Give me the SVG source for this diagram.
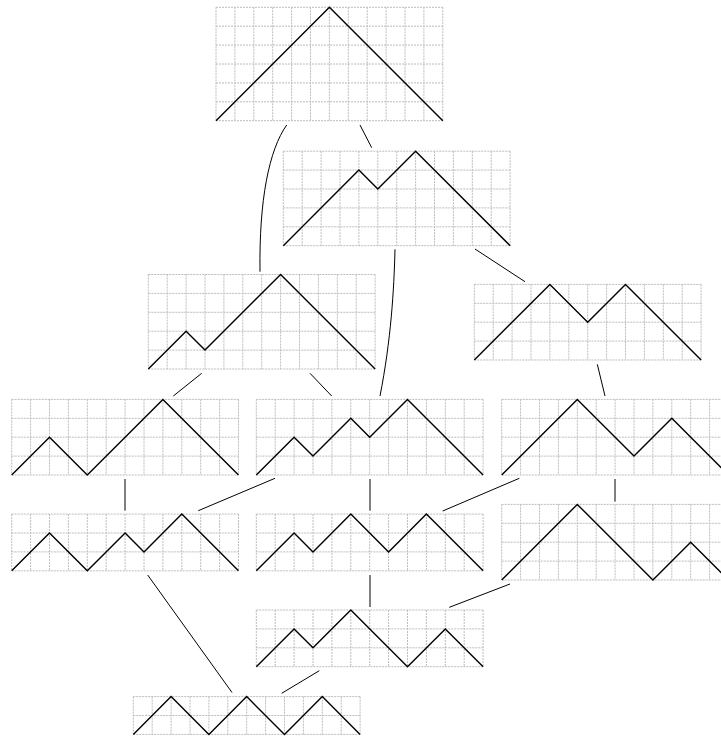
<svg xmlns="http://www.w3.org/2000/svg" xmlns:xlink="http://www.w3.org/1999/xlink" width="721" height="737" viewBox="0 0 721 737">
<style>
.grid{fill:none;stroke:#bcbcbc;stroke-width:1;stroke-dasharray:2,1}
.dyck{fill:none;stroke:#000;stroke-width:1.4;stroke-linejoin:miter}
.edge{fill:none;stroke:#000;stroke-width:1}
</style>
<defs>
<path id="g2" class="grid" d="M0,0H226.8M0,18.9H226.8M0,37.8H226.8M0,0V37.8M18.9,0V37.8M37.8,0V37.8M56.7,0V37.8M75.6,0V37.8M94.5,0V37.8M113.4,0V37.8M132.3,0V37.8M151.2,0V37.8M170.1,0V37.8M189,0V37.8M207.9,0V37.8M226.8,0V37.8"/>
<path id="g3" class="grid" d="M0,0H226.8M0,18.9H226.8M0,37.8H226.8M0,56.7H226.8M0,0V56.7M18.9,0V56.7M37.8,0V56.7M56.7,0V56.7M75.6,0V56.7M94.5,0V56.7M113.4,0V56.7M132.3,0V56.7M151.2,0V56.7M170.1,0V56.7M189,0V56.7M207.9,0V56.7M226.8,0V56.7"/>
<path id="g4" class="grid" d="M0,0H226.8M0,18.9H226.8M0,37.8H226.8M0,56.7H226.8M0,75.6H226.8M0,0V75.6M18.9,0V75.6M37.8,0V75.6M56.7,0V75.6M75.6,0V75.6M94.5,0V75.6M113.4,0V75.6M132.3,0V75.6M151.2,0V75.6M170.1,0V75.6M189,0V75.6M207.9,0V75.6M226.8,0V75.6"/>
<path id="g5" class="grid" d="M0,0H226.8M0,18.9H226.8M0,37.8H226.8M0,56.7H226.8M0,75.6H226.8M0,94.5H226.8M0,0V94.5M18.9,0V94.5M37.8,0V94.5M56.7,0V94.5M75.6,0V94.5M94.5,0V94.5M113.4,0V94.5M132.3,0V94.5M151.2,0V94.5M170.1,0V94.5M189,0V94.5M207.9,0V94.5M226.8,0V94.5"/>
<path id="g6" class="grid" d="M0,0H226.8M0,18.9H226.8M0,37.8H226.8M0,56.7H226.8M0,75.6H226.8M0,94.5H226.8M0,113.4H226.8M0,0V113.4M18.9,0V113.4M37.8,0V113.4M56.7,0V113.4M75.6,0V113.4M94.5,0V113.4M113.4,0V113.4M132.3,0V113.4M151.2,0V113.4M170.1,0V113.4M189,0V113.4M207.9,0V113.4M226.8,0V113.4"/>
</defs>
<rect width="721" height="737" fill="#fff"/>
<g id="edges">
<path class="edge" d="M360,125L371.7,147.7"/>
<path class="edge" d="M286.7,125C269,150 259,200 260,271.7"/>
<path class="edge" d="M475,249L525,281.7"/>
<path class="edge" d="M395,249.3C394,290 391,340 380,396"/>
<path class="edge" d="M201.7,373.3L173.3,396"/>
<path class="edge" d="M310,373.3L331.7,396"/>
<path class="edge" d="M597.3,364.3L605,396"/>
<path class="edge" d="M125,479V510.7"/>
<path class="edge" d="M275,478.3L198.3,510.7"/>
<path class="edge" d="M370,479V510.7"/>
<path class="edge" d="M519.3,478.3L442.7,511"/>
<path class="edge" d="M615,479V501.7"/>
<path class="edge" d="M147.7,575L232,692.5"/>
<path class="edge" d="M370,575V607"/>
<path class="edge" d="M510,584L449.3,607.3"/>
<path class="edge" d="M319.3,670.7L281.7,693.3"/>
</g>
<g id="n1" transform="translate(216,7.3)"><use xlink:href="#g6"/><polyline class="dyck" points="0,113.4 113.4,0 226.8,113.4"/></g>
<g id="n2" transform="translate(283.3,151.2)"><use xlink:href="#g5"/><polyline class="dyck" points="0,94.5 75.6,18.9 94.5,37.8 132.3,0 226.8,94.5"/></g>
<g id="n3" transform="translate(148.3,274.5)"><use xlink:href="#g5"/><polyline class="dyck" points="0,94.5 37.8,56.7 56.7,75.6 132.3,0 226.8,94.5"/></g>
<g id="n4" transform="translate(474.3,284.4)"><use xlink:href="#g4"/><polyline class="dyck" points="0,75.6 75.6,0 113.4,37.8 151.2,0 226.8,75.6"/></g>
<g id="n5" transform="translate(11.7,399.4)"><use xlink:href="#g4"/><polyline class="dyck" points="0,75.6 37.8,37.8 75.6,75.6 151.2,0 226.8,75.6"/></g>
<g id="n6" transform="translate(256.3,399.4)"><use xlink:href="#g4"/><polyline class="dyck" points="0,75.6 37.8,37.8 56.7,56.7 94.5,18.9 113.4,37.8 151.2,0 226.8,75.6"/></g>
<g id="n7" transform="translate(501.7,399.4)"><use xlink:href="#g4"/><polyline class="dyck" points="0,75.6 75.6,0 132.3,56.7 170.1,18.9 226.8,75.6"/></g>
<g id="n8" transform="translate(11.7,514.1)"><use xlink:href="#g3"/><polyline class="dyck" points="0,56.7 37.8,18.9 75.6,56.7 113.4,18.9 132.3,37.8 170.1,0 226.8,56.7"/></g>
<g id="n9" transform="translate(256.3,514.1)"><use xlink:href="#g3"/><polyline class="dyck" points="0,56.7 37.8,18.9 56.7,37.8 94.5,0 132.3,37.8 170.1,0 226.8,56.7"/></g>
<g id="n10" transform="translate(501.7,504.4)"><use xlink:href="#g4"/><polyline class="dyck" points="0,75.6 75.6,0 151.2,75.6 189,37.8 226.8,75.6"/></g>
<g id="n11" transform="translate(256.3,610)"><use xlink:href="#g3"/><polyline class="dyck" points="0,56.7 37.8,18.9 56.7,37.8 94.5,0 151.2,56.7 189,18.9 226.8,56.7"/></g>
<g id="n12" transform="translate(133.3,696.6)"><use xlink:href="#g2"/><polyline class="dyck" points="0,37.8 37.8,0 75.6,37.8 113.4,0 151.2,37.8 189,0 226.8,37.8"/></g>
</svg>
